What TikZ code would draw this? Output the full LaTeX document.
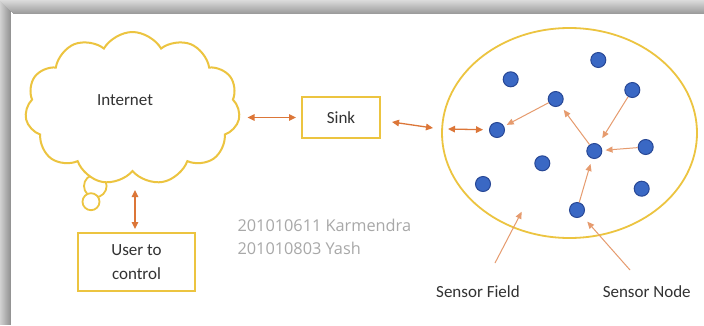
\documentclass[tikz,border=0pt]{standalone}
\usepackage{fontspec}
\setmainfont{Carlito}
\newfontfamily\opensans{Open Sans}
\usetikzlibrary{shapes.symbols,shapes.geometric,arrows.meta}
\definecolor{gold}{RGB}{236,196,64}
\definecolor{arrowor}{RGB}{220,118,56}
\definecolor{arrowlt}{RGB}{230,155,110}
\definecolor{nodeblue}{RGB}{58,104,196}
\definecolor{nodeedge}{RGB}{40,72,150}
\definecolor{labeltext}{RGB}{50,50,50}
\definecolor{idtext}{RGB}{168,168,168}
\begin{document}
\begin{tikzpicture}[x=1pt,y=-1pt,
  goldbox/.style={draw=gold,line width=2pt,fill=white,inner sep=0pt},
  lbl/.style={font=\fontsize{17}{24}\selectfont,text=labeltext},
  sensor/.style={circle,fill=nodeblue,draw=nodeedge,line width=1pt,minimum size=15pt,inner sep=0pt},
  dblarrow/.style={arrowor,line width=1.3pt,{Triangle[length=7pt,width=6.5pt]}-{Triangle[length=7pt,width=6.5pt]}},
  onearrow/.style={arrowlt,line width=1pt,-{Triangle[length=7pt,width=6pt]}},
  bubble/.style={circle,draw=gold,line width=1.8pt,fill=white,inner sep=0pt}
]
\useasboundingbox (0,0) rectangle (704,325);
\fill[white] (0,0) rectangle (704,325);
% shadow frame
\foreach \i [evaluate=\i as \g using 18+2.4*\i] in {0,...,10} {
  \fill[black!\g] (\i,0) rectangle (\i+1.05,325);
}
\foreach \i [evaluate=\i as \g using 14+1.9*\i] in {0,...,13} {
  \fill[black!\g] (\i,\i) rectangle (704,\i+1.05);
}
\fill[white] (11,14) rectangle (704,325);

% cloud
\node[bubble,minimum size=22.6pt] (bubA) at (95.3,186) {};
\node[cloud,draw=gold,fill=white,line width=2pt,cloud puffs=11,cloud puff arc=120,
      aspect=1.4,minimum width=215pt,minimum height=153pt,inner sep=0pt] (cloud) at (132.5,108.5) {};
\node[bubble,minimum size=17pt] (bubB) at (91,201.7) {};
\node[lbl] (inet) at (125,100) {Internet};

% boxes
\node[goldbox,lbl,minimum width=78pt,minimum height=41pt] (sink) at (341,117.5) {Sink};
\node[goldbox,lbl,minimum width=117pt,minimum height=58pt,align=center] (user) at (136.5,262) {User to\\control};

% field
\node[ellipse,draw=gold,line width=1.8pt,minimum width=255pt,minimum height=210pt,inner sep=0pt] (field) at (569.5,133) {};

% sensors
\node[sensor] (n1) at (510.7,79.3) {};
\node[sensor] (n2) at (598.3,60) {};
\node[sensor] (n3) at (632.3,90) {};
\node[sensor] (n4) at (555.7,99) {};
\node[sensor] (n5) at (497,130) {};
\node[sensor] (n6) at (594.3,151) {};
\node[sensor] (n7) at (645.7,147) {};
\node[sensor] (n8) at (542.3,163.3) {};
\node[sensor] (n9) at (483,184) {};
\node[sensor] (n10) at (641.7,188.7) {};
\node[sensor] (n11) at (577,210) {};

% main connectors
\draw[dblarrow,shorten <=8pt,shorten >=5pt] (cloud.east |- sink.west) -- (sink.west);
\coordinate (s1) at (392,122);
\coordinate (s2) at (433,128);
\draw[dblarrow] (s1) -- (s2);
\coordinate (f1) at (448,129);
\draw[dblarrow,shorten >=6pt] (f1) -- (n5);
\coordinate (u1) at (135,190);
\draw[dblarrow,shorten >=3pt] (u1) -- (u1 |- user.north);

% inner connectors
\draw[onearrow,shorten >=3pt] (n4) -- (n5);
\draw[onearrow,shorten >=5.5pt] (n6) -- (n4);
\draw[onearrow,shorten >=7pt] (n3) -- (n6);
\draw[onearrow,shorten >=3.3pt] (n7) -- (n6);
\draw[onearrow,shorten >=5.5pt] (n11) -- (n6);

% labels
\node[lbl] (sflabel) at (478,291.7) {Sensor Field};
\node[lbl] (snlabel) at (646.7,291.7) {Sensor Node};
\coordinate (sf1) at (495,263);
\coordinate (sf2) at (521.7,211.7);
\draw[onearrow] (sf1) -- (sf2);
\coordinate (sn1) at (630,270);
\draw[onearrow,shorten >=7.5pt] (sn1) -- (n11);

\node[font=\opensans\fontsize{16.3}{22.6}\selectfont,text=idtext,align=left,anchor=west] (ids) at (234,237) {201010611 Karmendra\\201010803 Yash};
\end{tikzpicture}
\end{document}
